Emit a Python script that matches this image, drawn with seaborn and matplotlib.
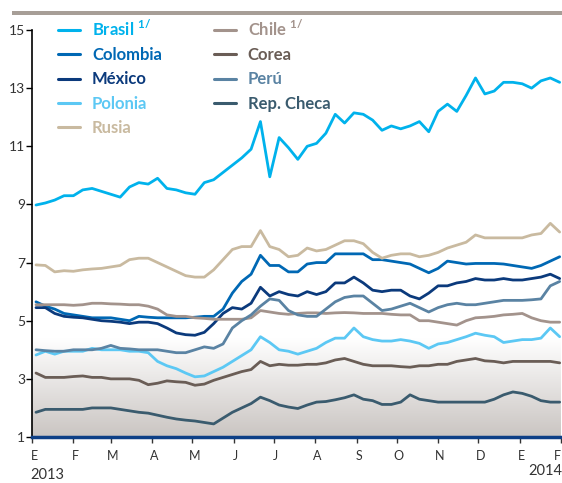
import matplotlib
matplotlib.use('Agg')
import matplotlib.pyplot as plt
import matplotlib.dates as mdates
import matplotlib.transforms as mtransforms
from matplotlib.colors import LinearSegmentedColormap
from matplotlib.patches import Rectangle
import numpy as np
import pandas as pd
import seaborn as sns

# weekly readings, Jan 2013 - Jan 2014
fechas = pd.date_range('2013-01-04', periods=57, freq='7D')

brasil = [8.98, 9.05, 9.15, 9.3, 9.3, 9.5, 9.55, 9.45, 9.35, 9.25, 9.6, 9.75, 9.7, 9.9, 9.55,
          9.5, 9.4, 9.35, 9.75, 9.85, 10.1, 10.35, 10.6, 10.9, 11.85, 9.95, 11.3, 10.95, 10.55,
          11.0, 11.1, 11.45, 12.1, 11.8, 12.15, 12.1, 11.9, 11.55, 11.7, 11.6, 11.7, 11.85, 11.5,
          12.2, 12.45, 12.2, 12.75, 13.35, 12.8, 12.9, 13.2, 13.2, 13.15, 13.0, 13.25, 13.35, 13.2]
colombia = [5.65, 5.5, 5.4, 5.25, 5.2, 5.15, 5.1, 5.1, 5.1, 5.05, 5.0, 5.15, 5.12, 5.1, 5.1,
            5.1, 5.1, 5.12, 5.15, 5.15, 5.4, 5.95, 6.35, 6.6, 7.25, 6.9, 6.9, 6.68, 6.68,
            6.95, 7.0, 7.0, 7.3, 7.3, 7.3, 7.3, 7.1, 7.1, 7.05, 7.0, 6.95, 6.8, 6.65,
            6.8, 7.05, 7.0, 6.95, 6.97, 6.97, 6.97, 6.95, 6.9, 6.85, 6.8, 6.9, 7.05, 7.2]
mexico = [5.45, 5.45, 5.25, 5.15, 5.12, 5.1, 5.05, 5.0, 4.98, 4.95, 4.9, 4.95, 4.95, 4.9, 4.75,
          4.58, 4.52, 4.5, 4.6, 4.9, 5.25, 5.45, 5.4, 5.6, 6.15, 5.85, 6.0, 5.9, 5.85,
          6.0, 5.9, 6.0, 6.3, 6.3, 6.5, 6.3, 6.05, 6.0, 6.05, 6.05, 5.85, 5.75, 5.95,
          6.2, 6.2, 6.3, 6.35, 6.45, 6.4, 6.4, 6.45, 6.4, 6.4, 6.45, 6.5, 6.6, 6.45]
polonia = [3.82, 3.95, 3.85, 3.95, 3.95, 3.95, 4.05, 4.0, 4.0, 4.0, 3.95, 3.95, 3.9, 3.6, 3.45,
           3.35, 3.2, 3.07, 3.1, 3.25, 3.4, 3.6, 3.8, 4.0, 4.45, 4.25, 4.0, 3.95, 3.85,
           3.95, 4.05, 4.25, 4.4, 4.4, 4.75, 4.45, 4.35, 4.3, 4.3, 4.35, 4.3, 4.22, 4.05,
           4.2, 4.25, 4.35, 4.45, 4.57, 4.5, 4.45, 4.25, 4.3, 4.35, 4.35, 4.4, 4.75, 4.45]
rusia = [6.92, 6.9, 6.68, 6.72, 6.7, 6.75, 6.78, 6.8, 6.85, 6.9, 7.1, 7.15, 7.15, 7.0, 6.85,
         6.7, 6.55, 6.5, 6.5, 6.75, 7.1, 7.45, 7.55, 7.55, 8.1, 7.55, 7.45, 7.2, 7.25,
         7.5, 7.4, 7.45, 7.6, 7.75, 7.75, 7.65, 7.35, 7.15, 7.25, 7.3, 7.3, 7.2, 7.25,
         7.35, 7.5, 7.6, 7.7, 7.95, 7.85, 7.85, 7.85, 7.85, 7.85, 7.95, 8.0, 8.35, 8.05]
chile = [5.55, 5.55, 5.55, 5.55, 5.53, 5.55, 5.6, 5.6, 5.58, 5.57, 5.55, 5.55, 5.5, 5.4, 5.2,
         5.15, 5.15, 5.1, 5.08, 5.05, 5.05, 5.05, 5.05, 5.1, 5.35, 5.3, 5.25, 5.22, 5.25,
         5.27, 5.27, 5.25, 5.27, 5.28, 5.27, 5.25, 5.25, 5.25, 5.22, 5.2, 5.2, 5.0, 5.0,
         4.95, 4.9, 4.85, 5.0, 5.1, 5.12, 5.15, 5.2, 5.22, 5.25, 5.1, 5.0, 4.95, 4.95]
corea = [3.2, 3.05, 3.05, 3.05, 3.08, 3.1, 3.05, 3.05, 3.0, 3.0, 3.0, 2.95, 2.8, 2.85, 2.93,
         2.9, 2.88, 2.78, 2.82, 2.95, 3.05, 3.15, 3.25, 3.32, 3.6, 3.45, 3.5, 3.47, 3.47,
         3.5, 3.5, 3.55, 3.65, 3.7, 3.6, 3.5, 3.45, 3.45, 3.45, 3.42, 3.4, 3.45, 3.45,
         3.5, 3.5, 3.6, 3.65, 3.7, 3.62, 3.6, 3.55, 3.6, 3.6, 3.6, 3.6, 3.6, 3.55]
peru = [4.0, 3.97, 3.95, 3.95, 4.0, 4.0, 4.0, 4.05, 4.15, 4.05, 4.03, 4.0, 4.0, 4.0, 3.95,
        3.9, 3.9, 4.0, 4.1, 4.05, 4.2, 4.75, 5.0, 5.2, 5.5, 5.75, 5.7, 5.35, 5.2,
        5.15, 5.15, 5.4, 5.65, 5.8, 5.85, 5.85, 5.6, 5.35, 5.4, 5.5, 5.6, 5.45, 5.3,
        5.45, 5.55, 5.6, 5.55, 5.55, 5.6, 5.65, 5.7, 5.7, 5.7, 5.72, 5.75, 6.2, 6.35]
rep_checa = [1.85, 1.95, 1.95, 1.95, 1.95, 1.95, 2.0, 2.0, 2.0, 1.95, 1.9, 1.85, 1.82, 1.75, 1.68,
             1.62, 1.58, 1.55, 1.5, 1.45, 1.65, 1.85, 2.0, 2.15, 2.37, 2.25, 2.1, 2.03, 1.98,
             2.1, 2.2, 2.22, 2.28, 2.35, 2.45, 2.3, 2.25, 2.12, 2.12, 2.2, 2.45, 2.3, 2.25,
             2.2, 2.2, 2.2, 2.2, 2.2, 2.2, 2.3, 2.45, 2.55, 2.5, 2.4, 2.25, 2.2, 2.2]

paises = ['Brasil', 'Colombia', 'México', 'Polonia', 'Rusia',
          'Chile', 'Corea', 'Perú', 'Rep. Checa']
series = [brasil, colombia, mexico, polonia, rusia, chile, corea, peru, rep_checa]
colores = ['#00b2ec', '#0068b4', '#0b3a7c', '#5cc8f4', '#c9baa0',
           '#a3938c', '#6a5d56', '#5a83a3', '#3a5b6e']
etiquetas = [r'Brasil $^{1/}$', 'Colombia', 'México', 'Polonia', 'Rusia',
             r'Chile $^{1/}$', 'Corea', 'Perú', 'Rep. Checa']
meses = ['E', 'F', 'M', 'A', 'M', 'J', 'J', 'A', 'S', 'O', 'N', 'D', 'E', 'F']

df = pd.concat([pd.DataFrame({'fecha': fechas, 'valor': v, 'pais': p})
                for p, v in zip(paises, series)], ignore_index=True)

sns.set_theme(style='white')
plt.rcParams['font.family'] = ['Lato', 'DejaVu Sans']
plt.rcParams['mathtext.fontset'] = 'custom'
plt.rcParams['mathtext.rm'] = 'Lato:bold'
plt.rcParams['mathtext.bf'] = 'Lato:bold'

W, H = 562, 483
fig = plt.figure(figsize=(W / 100, H / 100), dpi=100)
ax = fig.add_axes([32 / W, 1 - 437 / H, (561 - 32) / W, (437 - 30) / H])

x0 = mdates.date2num(pd.Timestamp('2013-01-01'))
x1 = mdates.date2num(pd.Timestamp('2014-02-01'))

# grey fade at the bottom of the plot
grad = np.linspace(0, 1, 256).reshape(-1, 1)
fondo = LinearSegmentedColormap.from_list('fondo', ['#cac5c2', '#ffffff'])
ax.imshow(grad, extent=[x0, x1, 1, 4.4], aspect='auto', cmap=fondo,
          origin='lower', zorder=0, interpolation='bicubic')

sns.lineplot(data=df, x='fecha', y='valor', hue='pais', hue_order=paises,
             palette=dict(zip(paises, colores)), linewidth=2.0, ax=ax, legend='full')

ax.set_xlim(x0, x1)
ax.set_ylim(1, 15)
ax.set_xlabel('')
ax.set_ylabel('')

ax.set_yticks(range(1, 16, 2))
ax.set_xticks(pd.date_range('2013-01-01', '2014-02-01', freq='MS'))
ax.set_xticklabels(meses)
ax.tick_params(axis='y', direction='out', length=4, width=1, color='black',
               pad=1, labelsize=10, labelcolor='#333333', left=True)
ax.tick_params(axis='x', direction='out', length=4, width=1, color='#333333',
               pad=5, labelsize=9, labelcolor='#333333', bottom=True)
shift = mtransforms.ScaledTranslation(2 / 100, 0, fig.dpi_scale_trans)
xlabels = ax.get_xticklabels()
for lbl in xlabels[:-1]:
    lbl.set_transform(lbl.get_transform() + shift)
xlabels[-1].set_ha('right')

for s in ['top', 'right']:
    ax.spines[s].set_visible(False)
ax.spines['left'].set_color('black')
ax.spines['left'].set_linewidth(1.2)
ax.spines['bottom'].set_color('#0d3f86')
ax.spines['bottom'].set_linewidth(2.5)
ax.spines['bottom'].set_zorder(5)

handles, _ = ax.get_legend_handles_labels()
leg = ax.legend(handles, etiquetas, ncol=2, loc='upper left',
                bbox_to_anchor=(58 / W, 1 - 19 / H), bbox_transform=fig.transFigure,
                frameon=False, borderpad=0, borderaxespad=0,
                handlelength=1.32, handletextpad=0.72, labelspacing=0.49,
                columnspacing=3.1, prop={'weight': 'bold', 'size': 12})
for t, c in zip(leg.get_texts(), colores):
    t.set_color(c)
for ln in leg.get_lines():
    ln.set_linewidth(2.2)

# grey band across the top
fig.patches.append(Rectangle((12 / W, 1 - 15 / H), 1, 4 / H, transform=fig.transFigure,
                             facecolor='#a79e97', edgecolor='none'))

fig.text(30 / W, 1 - 475 / H, '2013', ha='left', va='center', fontsize=10.5, color='#333333')
fig.text(562 / W, 1 - 471 / H, '2014', ha='right', va='center', fontsize=10.5, color='#333333')

fig.savefig('out.png', dpi=100)
